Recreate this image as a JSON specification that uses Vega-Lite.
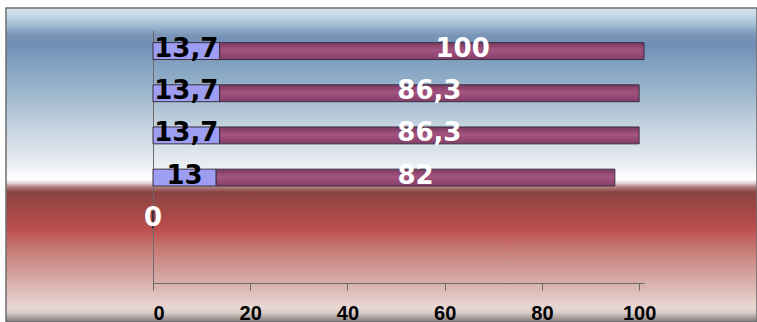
{
  "$schema": "https://vega.github.io/schema/vega-lite/v6.json",
  "autosize": {"type": "none"},
  "width": 751,
  "height": 314,
  "padding": {"left": 6, "top": 8, "right": 0, "bottom": 0},
  "background": "white",
  "view": {
    "stroke": "#6e6e6e",
    "strokeWidth": 1.5,
    "fill": {
      "gradient": "linear", "x1": 0, "y1": 0, "x2": 0, "y2": 1,
      "stops": [
        {"offset": 0, "color": "#d6e6f0"},
        {"offset": 0.022, "color": "#c6d9e7"},
        {"offset": 0.054, "color": "#a3bcd3"},
        {"offset": 0.086, "color": "#7a95b8"},
        {"offset": 0.118, "color": "#6f8db4"},
        {"offset": 0.15, "color": "#7b9abb"},
        {"offset": 0.213, "color": "#8caac6"},
        {"offset": 0.277, "color": "#9fb8ce"},
        {"offset": 0.341, "color": "#b8cad9"},
        {"offset": 0.404, "color": "#cdd9e4"},
        {"offset": 0.468, "color": "#dfe6ed"},
        {"offset": 0.51, "color": "#eef1f5"},
        {"offset": 0.532, "color": "#fbfbfc"},
        {"offset": 0.545, "color": "#ffffff"},
        {"offset": 0.557, "color": "#e8d9d9"},
        {"offset": 0.57, "color": "#b08080"},
        {"offset": 0.586, "color": "#8a4442"},
        {"offset": 0.627, "color": "#9c4645"},
        {"offset": 0.675, "color": "#b04b4a"},
        {"offset": 0.713, "color": "#bf5350"},
        {"offset": 0.755, "color": "#c5716d"},
        {"offset": 0.809, "color": "#cd8f8b"},
        {"offset": 0.866, "color": "#d8aba7"},
        {"offset": 0.917, "color": "#e1c4c0"},
        {"offset": 0.955, "color": "#e8d8d3"},
        {"offset": 0.971, "color": "#d8ccc8"},
        {"offset": 0.987, "color": "#a89c9a"},
        {"offset": 1, "color": "#857878"}
      ]
    }
  },
  "data": {
    "values": [
      {"row": "1", "series": "A", "value": 13.7, "label": "13,7"},
      {"row": "1", "series": "B", "value": 100, "label": "100"},
      {"row": "2", "series": "A", "value": 13.7, "label": "13,7"},
      {"row": "2", "series": "B", "value": 86.3, "label": "86,3"},
      {"row": "3", "series": "A", "value": 13.7, "label": "13,7"},
      {"row": "3", "series": "B", "value": 86.3, "label": "86,3"},
      {"row": "4", "series": "A", "value": 13, "label": "13"},
      {"row": "4", "series": "B", "value": 82, "label": "82"},
      {"row": "5", "series": "A", "value": 0, "label": ""},
      {"row": "5", "series": "B", "value": 0, "label": "0"}
    ]
  },
  "encoding": {
    "y": {
      "field": "row", "type": "nominal",
      "scale": {"domain": ["1", "2", "3", "4", "5", "6"], "range": [22, 275], "paddingInner": 0, "paddingOuter": 0},
      "axis": {"title": null, "labels": false, "ticks": false, "domain": true, "domainColor": "#6b6b6b", "domainWidth": 1, "offset": -147, "grid": false}
    }
  },
  "layer": [
    {
      "mark": {"type": "bar", "height": {"band": 0.4}, "stroke": "#3a2f3f", "strokeWidth": 1},
      "encoding": {
        "x": {
          "field": "value", "type": "quantitative", "stack": "zero",
          "scale": {"domain": [0, 101], "range": [147, 638], "nice": false, "zero": false, "clamp": true},
          "axis": {
            "title": null, "values": [0, 20, 40, 60, 80, 100], "offset": -39, "grid": false,
            "domainColor": "#6b6b6b", "domainWidth": 1, "tickColor": "#6b6b6b", "tickSize": 7,
            "labelFont": "Liberation Sans", "labelFontWeight": "bold", "labelFontSize": 20, "labelColor": "#000000",
            "labelPadding": 13
          }
        },
        "detail": {"field": "series"},
        "order": {"field": "series"},
        "fill": {
          "condition": {
            "test": "datum.series === 'B'",
            "value": {
              "gradient": "linear", "x1": 0, "y1": 0, "x2": 0, "y2": 1,
              "stops": [
                {"offset": 0, "color": "#7a3a60"},
                {"offset": 0.45, "color": "#a45480"},
                {"offset": 1, "color": "#833e67"}
              ]
            }
          },
          "value": "#9d9df2"
        }
      }
    },
    {
      "mark": {"type": "text", "font": "DejaVu Sans", "fontWeight": "bold", "fontSize": 26, "baseline": "middle", "align": "center", "dy": -2},
      "encoding": {
        "x": {
          "field": "value", "type": "quantitative", "stack": "zero", "bandPosition": 0.5,
          "scale": {"domain": [0, 101], "range": [147, 638], "nice": false, "zero": false},
          "axis": null
        },
        "detail": {"field": "series"},
        "order": {"field": "series"},
        "text": {"field": "label"},
        "color": {"condition": {"test": "datum.series === 'B'", "value": "#ffffff"}, "value": "#000000"}
      }
    }
  ],
  "resolve": {"scale": {"x": "independent"}}
}
